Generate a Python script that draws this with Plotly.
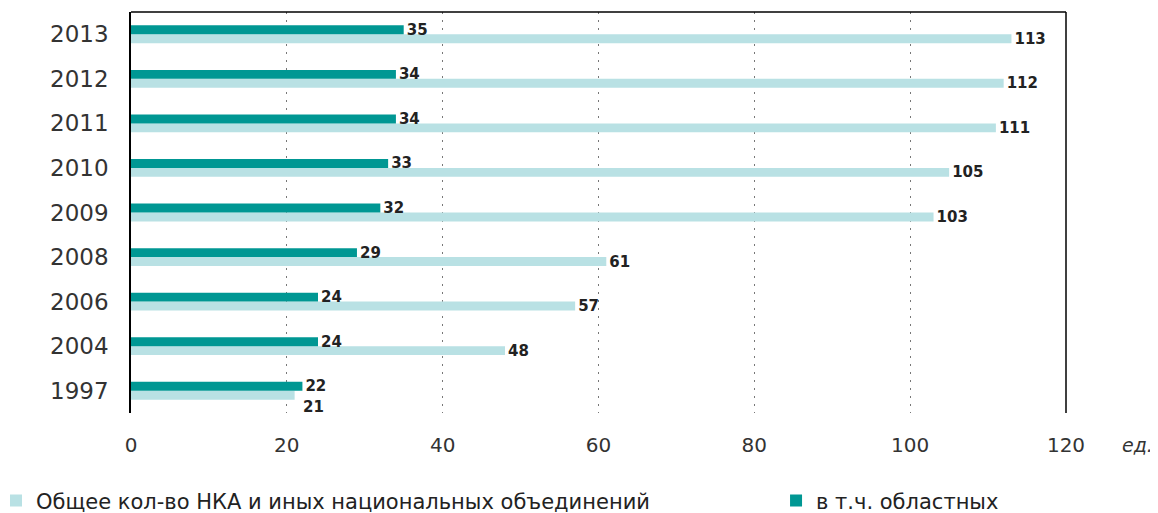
import plotly.graph_objects as go

years = ["1997", "2004", "2006", "2008", "2009", "2010", "2011", "2012", "2013"]
total = [21, 48, 57, 61, 103, 105, 111, 112, 113]
regional = [22, 24, 24, 29, 32, 33, 34, 34, 35]
name_total = "Общее кол-во НКА и иных национальных объединений"
name_regional = "в т.ч. областных"
x_ticks = [0, 20, 40, 60, 80, 100, 120]
unit_label = "ед."

FONT = "DejaVu Sans, Verdana, sans-serif"
LABEL_FONT = dict(family=FONT, size=15, color="#222222", weight="bold")

# the 1997 total label sits below its bar in the original (it would collide with 22)
total_text = [str(v) for v in total]
total_text[0] = ""

fig = go.Figure()
fig.add_trace(go.Bar(
    y=years, x=total, orientation="h", name=name_total,
    marker=dict(color="#b9e1e4", line=dict(width=0)),
    text=total_text, textposition="outside", cliponaxis=False, constraintext="none",
    textfont=LABEL_FONT, legend="legend", showlegend=True,
))
fig.add_trace(go.Bar(
    y=years, x=regional, orientation="h", name=name_regional,
    marker=dict(color="#009793", line=dict(width=0)),
    text=regional, textposition="outside", cliponaxis=False, constraintext="none",
    textfont=LABEL_FONT, legend="legend2", showlegend=True,
))

legend_common = dict(
    orientation="h", xref="container", yref="container",
    xanchor="left", yanchor="middle", y=0.024,
    font=dict(family=FONT, size=21, color="#222222"),
    itemwidth=30, indentation=-12, bgcolor="rgba(0,0,0,0)", visible=True,
)

fig.update_layout(
    width=1150, height=505,
    showlegend=True,
    margin=dict(l=123, r=92, t=4, b=100, autoexpand=False),
    paper_bgcolor="white", plot_bgcolor="white",
    barmode="group", bargap=0.6, bargroupgap=0,
    font=dict(family=FONT, color="#333333"),
    xaxis=dict(
        type="linear", range=[0, 120], tickvals=x_ticks,
        showgrid=True, gridcolor="#777777", griddash="2px,6px", gridwidth=1,
        zeroline=False, showline=False, ticks="",
        ticklabelstandoff=18, automargin=False,
        tickfont=dict(family=FONT, size=20, color="#333333"),
        fixedrange=True,
    ),
    yaxis=dict(
        type="category", categoryorder="array", categoryarray=years,
        range=[-0.5, len(years) - 0.5], autorange=False,
        showgrid=False, zeroline=False,
        showline=True, linecolor="#000000", linewidth=1.5,
        mirror=False, ticks="", ticklabelstandoff=16, automargin=False,
        tickfont=dict(family=FONT, size=23, color="#333333"),
        fixedrange=True,
    ),
    legend=dict(x=0.0, **legend_common),
    legend2=dict(x=0.6783, **legend_common),
    shapes=[
        dict(type="line", xref="paper", yref="paper", x0=0, x1=1, y0=1, y1=1,
             line=dict(color="#000000", width=1.5)),
        dict(type="line", xref="paper", yref="paper", x0=1, x1=1, y0=0, y1=1,
             line=dict(color="#000000", width=1.5)),
    ],
    annotations=[
        dict(text="<i>" + unit_label + "</i>", xref="paper", yref="paper",
             x=1.077, y=-0.080, xanchor="center", yanchor="middle", showarrow=False,
             font=dict(family=FONT, size=19, color="#333333")),
        dict(text=str(total[0]), xref="x", yref="y", x=total[0], y=years.index("1997"),
             xanchor="left", yanchor="middle", xshift=6, yshift=-16, showarrow=False,
             font=LABEL_FONT),
    ],
)

fig.write_html("out.html")
